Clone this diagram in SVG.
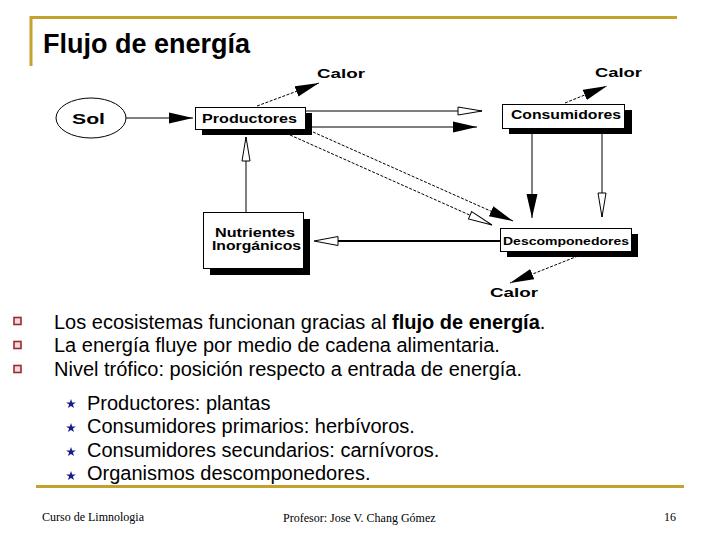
<svg xmlns="http://www.w3.org/2000/svg" width="720" height="540" viewBox="0 0 720 540">
<style>
.box{fill:#fff;stroke:#000;stroke-width:1}
.shadow{fill:#000}
.lbl{font-family:"Liberation Sans",Arial,sans-serif;font-weight:bold;fill:#000}
.ln{stroke:#000;stroke-width:1;fill:none}
.dash{stroke:#000;stroke-width:1;fill:none;stroke-dasharray:3 1.5}
.oa{fill:#fff;stroke:#000;stroke-width:1}
.gold{stroke:#C4A230;stroke-width:3;fill:none}
.body{font-family:"Liberation Sans",Arial,sans-serif;font-size:20px;fill:#000}
.foot{font-family:"Liberation Serif","Times New Roman",serif;font-size:12px;fill:#000}
.bul{fill:#F2DADA;stroke:#9A2A35;stroke-width:1.6}
.star{fill:#1A1A8C}
</style>
<defs>
<marker id="fa" markerUnits="userSpaceOnUse" markerWidth="26" markerHeight="13" refX="24" refY="6" orient="auto"><path d="M0,0.5 L24,6 L0,11.5 Z" fill="#000"/></marker>
<marker id="oa" markerUnits="userSpaceOnUse" markerWidth="28" markerHeight="12" refX="25" refY="5" orient="auto"><path d="M1,1 L25,5 L1,9 Z" fill="#fff" stroke="#000" stroke-width="1"/></marker>
<polygon id="st" points="0,-5 1.2,-1.6 4.8,-1.6 1.9,0.6 3,4 0,1.9 -3,4 -1.9,0.6 -4.8,-1.6 -1.2,-1.6"/>
</defs>

<!-- frame -->
<path class="gold" d="M31,66 L31,17.5 L677,17.5"/>
<line class="gold" x1="36" y1="486.5" x2="684" y2="486.5"/>
<text x="43" y="53" style="font-family:'Liberation Sans',Arial,sans-serif;font-weight:bold;font-size:27px">Flujo de energía</text>

<!-- connectors -->
<g id="connectors">
<line class="ln" x1="126" y1="118" x2="193" y2="118" marker-end="url(#fa)"/>
<line class="dash" x1="257" y1="106" x2="319" y2="83" marker-end="url(#fa)"/>
<line class="ln" x1="305" y1="111" x2="482" y2="111" marker-end="url(#oa)"/>
<line class="ln" x1="312" y1="127" x2="477" y2="127" marker-end="url(#fa)"/>
<line class="dash" x1="565" y1="103" x2="607" y2="86" marker-end="url(#fa)"/>
<line class="ln" x1="532" y1="134" x2="532" y2="218" marker-end="url(#fa)"/>
<line class="ln" x1="602" y1="134" x2="602" y2="217" marker-end="url(#oa)"/>
<line class="dash" x1="313" y1="132" x2="513" y2="221" marker-end="url(#fa)"/>
<line class="dash" x1="290" y1="135" x2="492" y2="225" marker-end="url(#oa)"/>
<line class="ln" x1="246" y1="212" x2="246" y2="137" marker-end="url(#oa)"/>
<line x1="500" y1="241" x2="338" y2="241" stroke="#000" stroke-width="2"/>
<path class="oa" d="M314,241 L338,236.5 L338,245.5 Z"/>
<line class="dash" x1="578" y1="256" x2="510" y2="283" marker-end="url(#fa)"/>
</g>

<!-- nodes -->
<g id="sol">
<ellipse cx="91" cy="118" rx="35" ry="20" fill="#fff" stroke="#000" stroke-width="1"/>
<text class="lbl" x="88.5" y="124" text-anchor="middle" font-size="15" textLength="33" lengthAdjust="spacingAndGlyphs">Sol</text>
</g>
<g id="productores">
<rect class="shadow" x="202" y="113" width="110" height="22"/>
<rect class="box" x="195.5" y="107.5" width="110" height="22"/>
<text class="lbl" x="202" y="123" font-size="12.5" textLength="95" lengthAdjust="spacingAndGlyphs">Productores</text>
</g>
<g id="consumidores">
<rect class="shadow" x="509" y="110" width="123" height="24"/>
<rect class="box" x="502.5" y="104.5" width="122" height="24"/>
<text class="lbl" x="511" y="119" font-size="12" textLength="110" lengthAdjust="spacingAndGlyphs">Consumidores</text>
</g>
<g id="nutrientes">
<rect class="shadow" x="210" y="219" width="100" height="56"/>
<rect class="box" x="203.5" y="212.5" width="100" height="56"/>
<text class="lbl" x="215" y="237" font-size="12" textLength="80" lengthAdjust="spacingAndGlyphs">Nutrientes</text>
<text class="lbl" x="212" y="250" font-size="12" textLength="89" lengthAdjust="spacingAndGlyphs">Inorgánicos</text>
</g>
<g id="descomponedores">
<rect class="shadow" x="507" y="234" width="131" height="23"/>
<rect class="box" x="500.5" y="228.5" width="131" height="23"/>
<text class="lbl" x="503" y="245" font-size="11.5" textLength="126" lengthAdjust="spacingAndGlyphs">Descomponedores</text>
</g>
<g id="calor">
<text class="lbl" x="317" y="78" font-size="12" textLength="48" lengthAdjust="spacingAndGlyphs">Calor</text>
<text class="lbl" x="595" y="77" font-size="12" textLength="47" lengthAdjust="spacingAndGlyphs">Calor</text>
<text class="lbl" x="490" y="297" font-size="13" textLength="48" lengthAdjust="spacingAndGlyphs">Calor</text>
</g>

<!-- bullets -->
<rect class="bul" x="14" y="317.5" width="7" height="7"/>
<rect class="bul" x="14" y="341.5" width="7" height="7"/>
<rect class="bul" x="14" y="365.5" width="7" height="7"/>
<text class="body" x="54" y="329">Los ecosistemas funcionan gracias al <tspan font-weight="bold">flujo de energía</tspan>.</text>
<text class="body" x="54" y="352">La energía fluye por medio de cadena alimentaria.</text>
<text class="body" x="54" y="376">Nivel trófico: posición respecto a entrada de energía.</text>

<use href="#st" class="star" x="71" y="404"/>
<use href="#st" class="star" x="71" y="428"/>
<use href="#st" class="star" x="71" y="452"/>
<use href="#st" class="star" x="71" y="476"/>
<text class="body" x="87" y="410">Productores: plantas</text>
<text class="body" x="87" y="433">Consumidores primarios: herbívoros.</text>
<text class="body" x="87" y="457">Consumidores secundarios: carnívoros.</text>
<text class="body" x="87" y="480">Organismos descomponedores.</text>

<text class="foot" x="42" y="521">Curso de Limnologia</text>
<text class="foot" x="283" y="522">Profesor: Jose V. Chang Gómez</text>
<text class="foot" x="664" y="521">16</text>
</svg>
